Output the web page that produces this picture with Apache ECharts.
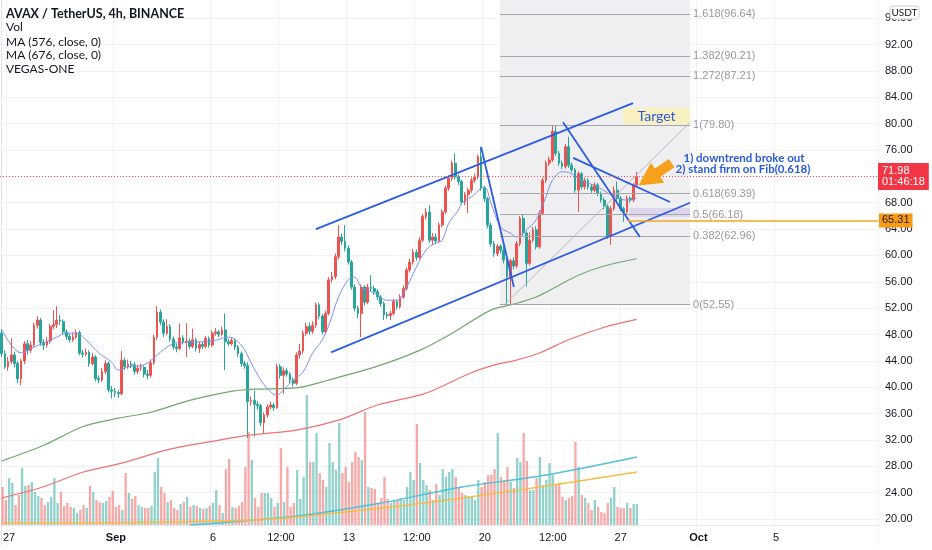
<!DOCTYPE html>
<html><head><meta charset="utf-8">
<script src="https://cdn.jsdelivr.net/npm/echarts@6/dist/echarts.min.js"></script>
<style>html,body{margin:0;padding:0;background:#fff}#c{width:932px;height:550px}</style>
</head><body><div id="c"></div>
<script>
// [open, close, low, high] per 4h candle
const candles = [
[48.2,45.1,44.6,48.8],[45.1,43.1,42.8,45.6],[43.1,43.9,42.5,44.6],[43.9,44.9,43.5,47.4],[44.9,43.6,43.0,45.4],
[43.6,41.3,40.6,44.0],[41.3,44.0,40.3,44.3],[44.0,46.6,43.5,47.0],[46.6,45.6,45.0,47.2],[45.6,46.4,45.2,47.0],
[46.4,49.4,46.0,49.8],[49.4,50.2,48.9,50.8],[50.2,46.8,46.3,50.5],[46.8,46.4,45.7,47.3],[46.4,47.0,46.0,47.6],
[47.0,49.2,46.6,49.6],[49.2,49.5,48.8,51.7],[49.5,50.2,49.0,52.3],[50.2,50.0,49.4,51.0],[50.0,48.4,48.0,50.3],
[48.4,47.7,47.2,48.8],[47.7,47.2,46.8,48.1],[47.2,47.6,46.9,48.3],[47.6,48.3,47.3,48.8],[48.3,45.2,44.9,48.6],
[45.2,45.0,44.5,45.7],[45.0,45.3,44.7,45.9],[45.3,43.6,43.1,45.6],[43.6,44.6,43.3,45.2],[44.6,41.3,40.9,44.9],
[41.3,41.1,40.6,41.8],[41.1,42.4,40.8,42.9],[42.4,43.6,42.0,44.1],[43.6,39.6,39.2,43.9],[39.6,39.4,38.3,40.2],
[39.4,39.2,38.5,39.9],[39.2,39.0,38.4,39.6],[39.0,44.1,38.8,45.5],[44.1,43.1,42.6,44.5],[43.1,43.5,42.8,44.2],
[43.5,43.4,42.9,44.0],[43.4,42.4,41.9,43.8],[42.4,42.9,42.0,43.4],[42.9,43.0,42.5,43.6],[43.0,42.0,41.5,43.3],
[42.0,41.8,41.2,42.6],[41.8,43.7,41.5,44.2],[43.7,47.6,43.4,48.0],[47.6,51.4,47.2,52.3],[51.4,49.9,49.4,51.8],
[49.9,48.2,47.6,50.3],[48.2,49.2,47.9,50.3],[49.2,47.3,46.9,49.6],[47.3,46.1,45.7,47.7],[46.1,45.9,45.3,46.6],
[45.9,47.5,45.6,49.7],[47.5,46.9,46.5,47.9],[46.9,47.0,44.6,49.7],[47.0,46.2,45.8,47.4],[46.2,47.2,45.9,48.9],
[47.2,45.9,45.4,47.5],[45.9,46.5,45.2,47.0],[46.5,46.2,45.8,46.9],[46.2,47.4,45.9,47.8],[47.4,46.4,46.0,47.7],
[46.4,48.2,46.1,48.6],[48.2,48.4,47.8,49.0],[48.4,48.0,47.6,48.7],[48.0,48.7,47.7,49.2],[48.7,46.9,42.6,51.2],
[46.9,46.6,46.2,47.3],[46.6,47.1,46.3,47.5],[47.1,46.1,45.7,47.4],[46.1,45.1,44.6,46.4],[45.1,43.6,43.1,45.4],
[43.6,43.3,42.8,44.0],[43.3,37.8,32.3,43.8],[37.8,38.0,37.2,38.6],[38.0,37.4,32.5,39.5],[37.4,37.2,36.6,37.9],
[37.2,34.6,34.1,37.5],[34.6,35.8,33.0,36.2],[35.8,37.0,35.4,37.4],[37.0,37.3,36.6,37.8],[37.3,36.9,36.4,37.6],
[36.9,43.1,36.7,43.6],[43.1,41.8,41.3,43.5],[41.8,42.5,39.0,43.0],[42.5,42.0,41.6,42.9],[42.0,41.1,40.6,42.3],
[41.1,40.6,40.1,41.5],[40.6,44.9,40.3,45.3],[44.9,45.5,44.3,46.6],[45.5,48.2,45.1,48.6],[48.2,49.2,47.8,49.8],
[49.2,48.5,48.0,49.8],[48.5,49.4,48.1,50.0],[49.4,52.5,49.0,52.9],[52.5,50.8,50.3,52.8],[50.8,48.4,48.0,51.1],
[48.4,51.2,48.1,51.6],[51.2,56.3,50.9,56.7],[56.3,56.8,55.9,57.5],[56.8,59.8,56.4,60.3],[59.8,62.8,59.4,64.6],
[62.8,62.1,61.6,63.3],[62.1,61.1,60.6,64.6],[61.1,59.0,58.6,61.5],[59.0,55.2,54.8,59.3],[55.2,52.0,51.5,55.6],
[52.0,51.2,50.5,52.4],[51.2,55.2,47.6,55.6],[55.2,52.9,52.4,55.5],[52.9,55.2,52.6,55.7],[55.2,55.0,54.5,57.0],
[55.0,54.5,54.0,55.4],[54.5,53.7,53.2,54.9],[53.7,52.7,52.2,54.0],[52.7,51.0,50.2,53.0],[51.0,50.9,50.4,51.4],
[50.9,51.2,50.2,51.6],[51.2,53.0,50.9,53.4],[53.0,52.2,51.8,53.3],[52.2,53.7,51.9,54.1],[53.7,55.0,53.4,55.4],
[55.0,57.8,54.7,58.2],[57.8,59.0,57.4,59.5],[59.0,60.5,58.6,61.0],[60.5,59.7,59.2,60.9],[59.7,62.3,59.4,62.8],
[62.3,65.9,62.0,66.3],[65.9,66.6,65.5,67.2],[66.6,62.3,61.9,67.6],[62.3,62.8,61.6,63.4],[62.8,62.2,61.7,63.3],
[62.2,64.6,61.9,65.0],[64.6,66.6,64.3,67.0],[66.6,70.2,66.3,70.6],[70.2,71.7,69.8,72.1],[71.7,74.0,71.3,74.4],
[74.0,71.9,71.5,75.5],[71.9,71.2,70.7,72.3],[71.2,68.1,67.7,71.5],[68.1,69.2,67.6,69.6],[69.2,69.9,66.4,70.3],
[69.9,71.4,69.5,71.8],[71.4,71.9,71.0,72.4],[71.9,75.0,71.6,75.3],[75.0,70.2,69.8,76.5],[70.2,68.6,68.1,70.6],
[68.6,64.6,64.1,68.9],[64.6,61.8,61.3,65.0],[61.8,60.3,59.8,62.2],[60.3,61.4,59.9,61.8],[61.4,60.8,60.3,61.7],
[60.8,59.3,58.8,61.3],[59.3,56.8,52.7,59.6],[56.8,59.2,52.55,59.5],[59.2,58.4,57.9,59.7],[58.4,61.8,58.1,62.2],
[61.8,65.6,61.4,66.0],[65.6,63.4,63.0,66.3],[63.4,58.8,55.3,63.7],[58.8,62.3,58.5,63.5],[62.3,63.9,62.0,64.3],
[63.9,61.3,60.9,64.4],[61.3,66.4,61.0,66.8],[66.4,71.4,66.1,71.8],[71.4,74.0,71.0,74.4],[74.0,74.5,73.6,75.0],
[74.5,78.8,74.2,79.8],[78.8,75.5,75.1,79.6],[75.5,74.0,73.6,75.9],[74.0,73.5,73.1,74.4],[73.5,76.5,73.2,76.9],
[76.5,73.7,73.3,78.0],[73.7,73.0,72.6,74.1],[73.0,69.9,69.5,73.3],[69.9,72.4,66.6,72.8],[72.4,70.4,70.0,72.7],
[70.4,71.4,70.0,71.8],[71.4,70.4,70.0,71.7],[70.4,69.9,69.5,70.8],[69.9,70.7,69.6,71.1],[70.7,69.4,69.0,71.0],
[69.4,68.4,68.0,69.7],[68.4,67.4,67.0,68.8],[67.4,62.9,62.5,67.7],[62.9,67.1,61.6,67.5],[67.1,69.9,66.8,70.5],
[69.9,68.7,68.3,71.2],[68.7,67.1,66.7,69.0],[67.1,66.6,65.1,67.4],[66.6,68.7,66.3,69.1],[68.7,68.4,68.0,69.0],
[68.4,70.7,68.1,71.0],[70.7,71.98,70.4,72.7]
];
// volume (thousand AVAX)
const volumes = [
380,250,470,420,200,300,570,390,400,430,330,290,270,200,230,280,470,220,330,190,220,
180,170,120,150,200,170,390,330,250,230,220,240,280,340,180,200,
150,520,320,260,290,200,180,170,170,190,530,670,380,320,230,250,
170,150,210,230,280,180,200,190,170,160,170,190,220,350,200,
120,560,660,180,170,190,230,580,930,650,270,180,320,320,320,270,180,220,770,230,580,180,220,550,260,480,1300,630,630,920,520,450,380,820,630,550,1020,520,580,430,630,730,680,650,1130,380,370,360,220,270,480,260,220,250,250,270,250,380,530,450,1010,620,450,400,350,250,410,300,
560,480,530,560,480,370,320,300,280,280,250,450,380,430,500,500,560,920,480,450,580,430,370,670,630,920,640,350,350,470,680,400,
450,620,500,400,420,280,250,270,290,830,580,300,270,220,150,250,180,130,120,220,270,380,180,170,170,220,170,210,210
];
const maBlue = [[0,48.8],[6,45.2],[10,46.1],[13,46.7],[17,47.6],[20,48.2],[23,48.2],[26,47.2],[30,45.2],[34,43.8],[36,42.6],[39,43.1],[44,43.4],[48,44.9],[52,46.4],[55,46.8],[64,46.9],[70,47.6],[74,46.4],[77,43.7],[80,41.1],[83,39.3],[85,38.8],[87,39.6],[90,41.1],[93,42.3],[96,45.2],[99,47.2],[101,49.4],[104,53.7],[107,56.3],[109,56.7],[111,55.2],[115,54.3],[119,53.2],[122,53.2],[125,55.2],[128,58.2],[131,60.8],[134,61.9],[136,62.3],[138,64.9],[141,66.9],[142,67.9],[145,68.9],[149,70.4],[151,68.0],[154,64.3],[157,63.4],[159,62.8],[162,63.9],[165,65.4],[168,68.9],[170,71.4],[173,72.7],[175,72.6],[179,71.4],[184,70.4],[187,69.5],[190,68.7],[193,68.4],[196,68.7]];
const maGreen = [[0,28.8],[13,31.2],[25,34.0],[36,35.3],[46,36.2],[58,38.0],[70,39.3],[78,39.7],[91,39.9],[101,41.1],[116,43.2],[129,45.6],[138,47.9],[151,51.7],[158,52.6],[165,53.7],[171,55.2],[178,57.0],[186,58.4],[196,59.5]];
const maRed = [[0,23.2],[13,24.9],[25,27.1],[38,28.6],[51,30.5],[64,31.7],[76,32.7],[91,33.5],[104,35.0],[116,37.3],[129,38.8],[134,39.7],[145,42.2],[153,43.5],[158,44.0],[166,45.2],[175,47.2],[186,49.1],[196,50.3]];
const volMaCyan = [[58,0],[91,90],[117,220],[142,380],[168,500],[196,680]];
const volMaYellow = [[0,20],[78,50],[117,170],[142,270],[168,390],[196,530]];
const fibLevels = ['1.618','1.382','1.272','1','0.618','0.5','0.382','0'];
const fibValues = [96.64,90.21,87.21,79.80,69.39,66.18,62.96,52.55];
const fibRange = [153.8,212.5];
const trendLines = [[97,64.0,194.9,83.1],[101.7,45.3,212.5,68.0],[148,76.45,158.1,55.2],[173.3,80.2,197,62.8],[176.4,74.8,206.3,68.1]];
const fibDiag = [155.4,52.6,212.5,80.2];
const targetBox = [191.8,79.85,212.5,82.4];
const zoneBox = [193.8,65.85,212.5,67.2];
const arrowPos = [201.7,72.3];
const xTickIdx = [2,35,65,86,107,128,149,170,191,215,239];
const xTickLabels = ['27','Sep','6','12:00','13','12:00','20','12:00','27','Oct','5'];
const priceMin = 16, priceMax = 98.76, priceStep = 4;
const lastPrice = 71.98, countdown = '01:46:18', supportPrice = 65.31, supportStart = 193.3;
const N_CATS = 271;

const cats = Array.from({length:N_CATS},(_,i)=>String(i));
const tickMap = {}; xTickIdx.forEach((k,j)=>tickMap[k]=xTickLabels[j]);
const UP='#ef5350', DOWN='#26a69a';
const splitColors = []; for(let v=priceMin; v<=priceMax; v+=priceStep) splitColors.push(v<20?'transparent':'#f0f2f5');
splitColors.push('transparent');
const BLUE='#2d5be3';
const FONT='"Liberation Sans", Arial, sans-serif';

const chart = echarts.init(document.getElementById('c'), null, {renderer:'canvas'});
chart.setOption({
  animation:false,
  backgroundColor:'#ffffff',
  textStyle:{fontFamily:FONT},
  grid:[{left:0,right:54,top:0,bottom:4.6},{left:0,right:54,top:380,bottom:25}],
  xAxis:[
    {type:'category',gridIndex:0,data:cats,boundaryGap:true,axisLine:{show:false},axisTick:{show:false},axisLabel:{show:false},
     splitLine:{show:true,interval:(i)=>tickMap[i]!==undefined,lineStyle:{color:'#f0f2f5',width:1}}},
    {type:'category',gridIndex:1,data:cats,boundaryGap:true,axisLine:{show:true,lineStyle:{color:'#e6e8ee'}},axisTick:{show:false},
     axisLabel:{interval:(i)=>tickMap[i]!==undefined,formatter:(v)=>{const t=tickMap[v];return (t==='Sep'||t==='Oct')?'{b|'+t+'}':t;},
       color:'#131722',fontSize:11,margin:7,fontFamily:FONT,rich:{b:{fontWeight:'bold',fontSize:11,color:'#131722'}}},splitLine:{show:false}},
    {type:'value',gridIndex:0,min:-0.5,max:N_CATS-0.5,show:false}
  ],
  yAxis:[
    {type:'value',gridIndex:0,position:'right',min:priceMin,max:priceMax,interval:priceStep,
     axisLine:{show:true,lineStyle:{color:'#e0e3eb'}},axisTick:{show:false},
     axisLabel:{showMaxLabel:false,formatter:(v)=>(v<20||v>96.5)?'':v.toFixed(2),color:'#131722',fontSize:11,margin:7,fontFamily:FONT},
     splitLine:{show:true,lineStyle:{color:splitColors,width:1}}},
    {type:'value',gridIndex:1,min:0,max:1450,show:false}
  ],
  series:[
    {type:'line',name:'fibShade',xAxisIndex:2,yAxisIndex:0,data:[],silent:true,
     markArea:{silent:true,data:[
       [{coord:[fibRange[0],fibValues[7]],itemStyle:{color:'#efeff2'}},{coord:[fibRange[1],priceMax]}],
       [{coord:[zoneBox[0],zoneBox[1]],itemStyle:{color:'rgba(190,170,228,0.35)'}},{coord:[zoneBox[2],zoneBox[3]]}],
       [{coord:[targetBox[0],targetBox[1]],itemStyle:{color:'rgba(250,240,185,0.85)'},
         label:{show:true,position:'inside',formatter:'Target',color:'#2a5bd7',fontSize:14,fontFamily:'Lato, '+FONT}},
        {coord:[targetBox[2],targetBox[3]]}]
     ]}},
    {type:'bar',name:'Vol',xAxisIndex:1,yAxisIndex:1,barWidth:'72%',silent:true,
     data:volumes.map((v,i)=>({value:v,itemStyle:{color:(candles[i][1]>=candles[i][0])?'rgba(38,166,154,0.5)':'rgba(239,83,80,0.5)'}}))},
    {type:'line',name:'volMA1',xAxisIndex:1,yAxisIndex:1,data:volMaCyan,smooth:0.3,symbol:'none',lineStyle:{color:'#4fc1da',width:1.3},silent:true},
    {type:'line',name:'volMA2',xAxisIndex:1,yAxisIndex:1,data:volMaYellow,smooth:0.3,symbol:'none',lineStyle:{color:'#f5bd45',width:1.3},silent:true},
    {type:'line',name:'MA576',xAxisIndex:0,yAxisIndex:0,data:maGreen,smooth:0.3,symbol:'none',lineStyle:{color:'#72a86c',width:1.2},silent:true},
    {type:'line',name:'MA676',xAxisIndex:0,yAxisIndex:0,data:maRed,smooth:0.3,symbol:'none',lineStyle:{color:'#ee7272',width:1.2},silent:true},
    {type:'line',name:'VEGAS',xAxisIndex:0,yAxisIndex:0,data:maBlue,smooth:0.35,symbol:'none',lineStyle:{color:'#7e8ff0',width:1},silent:true},
    {type:'candlestick',name:'AVAX',xAxisIndex:0,yAxisIndex:0,data:candles,barWidth:'68%',silent:true,
     itemStyle:{color:UP,color0:DOWN,borderColor:UP,borderColor0:DOWN,borderWidth:1}},
    {type:'line',name:'drawings',xAxisIndex:2,yAxisIndex:0,data:[],silent:true,
     markLine:{silent:true,symbol:['none','none'],animation:false,data:[
       ...fibValues.map((v,j)=>[{coord:[fibRange[0],v],lineStyle:{color:'#a3a6ad',width:1,type:'solid'},
          label:{show:true,position:'end',distance:3,formatter:fibLevels[j]+'('+v.toFixed(2)+')',color:'#9598a1',fontSize:11,padding:[0,0,12,0],fontFamily:FONT}},
          {coord:[fibRange[1],v]}]),
       [{coord:[fibDiag[0],fibDiag[1]],lineStyle:{color:'#b5b7bd',width:1,type:'solid'},label:{show:false}},{coord:[fibDiag[2],fibDiag[3]]}],
       ...trendLines.map(t=>[{coord:[t[0],t[1]],lineStyle:{color:BLUE,width:1.8,type:'solid'},label:{show:false}},{coord:[t[2],t[3]]}]),
       [{coord:[supportStart,supportPrice],lineStyle:{color:'#f5a623',width:1.6,type:'solid'},
          label:{show:true,position:'end',distance:1,formatter:supportPrice.toFixed(2),backgroundColor:'#f79a1a',color:'#1f1f1f',padding:[2,3,1,3],fontSize:11,fontFamily:FONT}},
        {coord:[N_CATS-0.5,supportPrice]}],
       {yAxis:lastPrice,lineStyle:{color:'#ef5350',width:1,type:[1,2]},
          label:{show:true,position:'end',distance:0,formatter:lastPrice.toFixed(2)+'\n'+countdown,backgroundColor:'#f23645',color:'#ffffff',padding:[3,4,2,4],lineHeight:11,fontSize:11,fontFamily:FONT}}
     ]},
     markPoint:{silent:true,data:[{coord:arrowPos,symbol:'path://M0,7 L17,7 L17,0 L40,12 L17,24 L17,17 L0,17 Z',symbolSize:[40,24],symbolRotate:-146,
        itemStyle:{color:'#f7a01c'},label:{show:false}}]}}
  ],
  graphic:[
    {type:'text',x:6,y:14,z:100,style:{text:'AVAX / TetherUS, 4h, BINANCE',fill:'#131722',font:'bold 12.5px Lato, sans-serif',textVerticalAlign:'middle'}},
    {type:'text',x:6,y:27,z:100,style:{text:'Vol',fill:'#131722',font:'12px Lato, sans-serif',textVerticalAlign:'middle'}},
    {type:'text',x:6,y:42,z:100,style:{text:'MA (576, close, 0)',fill:'#131722',font:'12px Lato, sans-serif',textVerticalAlign:'middle'}},
    {type:'text',x:6,y:55,z:100,style:{text:'MA (676, close, 0)',fill:'#131722',font:'12px Lato, sans-serif',textVerticalAlign:'middle'}},
    {type:'text',x:6,y:69,z:100,style:{text:'VEGAS-ONE',fill:'#131722',font:'12px Lato, sans-serif',textVerticalAlign:'middle'}},
    {type:'text',x:744,y:158,z:100,style:{text:'1) downtrend broke out',fill:'#2a5bd7',font:'bold 11.5px Lato, sans-serif',textAlign:'center',textVerticalAlign:'middle'}},
    {type:'text',x:743,y:169,z:100,style:{text:'2) stand firm on Fib(0.618)',fill:'#2a5bd7',font:'bold 11.5px Lato, sans-serif',textAlign:'center',textVerticalAlign:'middle'}},
    {type:'rect',shape:{x:890,y:6,width:29,height:13,r:3},style:{fill:'#ffffff',stroke:'#c9ccd4',lineWidth:1},z:100},
    {type:'text',x:904.5,y:12.5,style:{text:'USDT',fill:'#131722',font:'10px Lato, sans-serif',textAlign:'center',textVerticalAlign:'middle'},z:101}
  ]
});
</script></body></html>
